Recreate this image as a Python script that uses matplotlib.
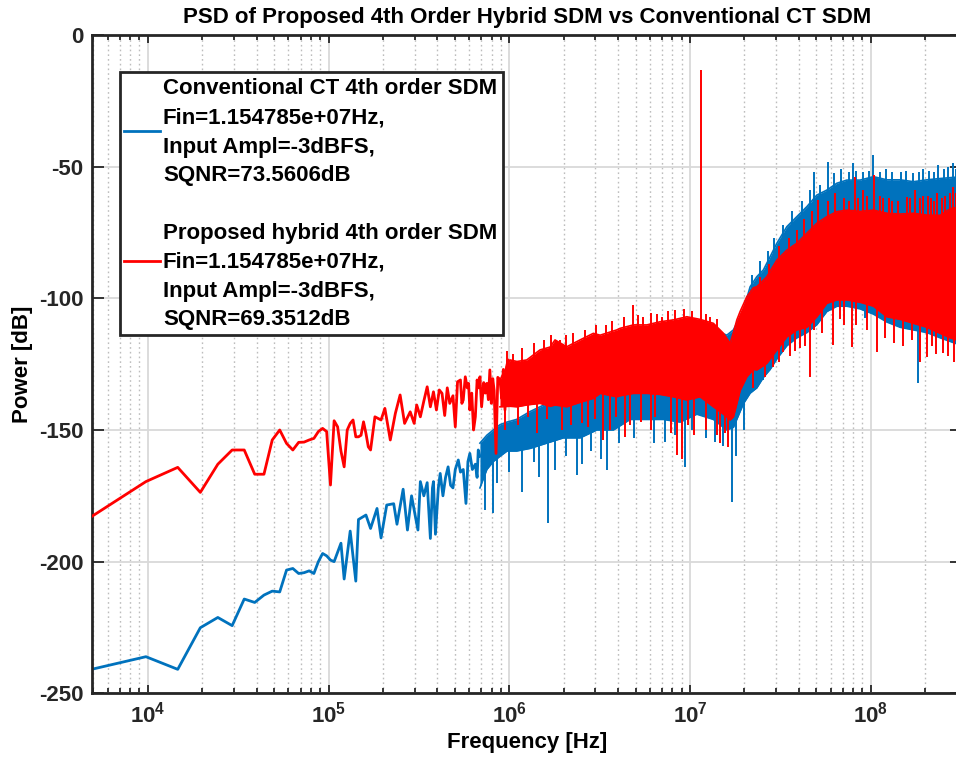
import numpy as np
import matplotlib
matplotlib.use("Agg")
import matplotlib.pyplot as plt
from matplotlib import ticker
from matplotlib.patches import Rectangle

plt.rcParams['font.family'] = ['Liberation Sans', 'DejaVu Sans']
plt.rcParams['font.weight'] = 'bold'
plt.rcParams['mathtext.fontset'] = 'custom'
plt.rcParams['mathtext.bf'] = 'Liberation Sans:bold'
plt.rcParams['mathtext.rm'] = 'Liberation Sans:bold'
plt.rcParams['axes.unicode_minus'] = False

# FFT setup: fs = 640 MHz, N = 2^17 -> bin width
fs = 640e6
nfft = 131072
df = fs / nfft

# ---- red: proposed hybrid SDM ----
red_trace_bin = [1, 2, 3, 4, 5, 6, 7, 8, 9, 10, 11, 12, 13, 14, 15, 16, 17, 18, 19, 20,
                 21, 22, 23, 24, 25, 26, 27, 28, 29, 30, 31, 32, 33, 34, 35, 37, 40, 42, 45, 48,
                 51, 54, 58, 61, 63, 66, 69, 72, 75, 78, 81, 84, 87, 90, 93, 96, 100, 103, 106, 110,
                 112, 114, 117, 120, 122, 124, 127, 130, 133, 136, 139, 141, 144, 148, 151, 154, 157, 160, 163, 166,
                 169, 173, 177, 182, 186, 190, 194, 198, 202, 207, 212, 216, 222, 229]
red_trace_db = [-182.9, -169.6, -164.2, -173.7, -163.0, -157.6, -157.6, -166.8, -166.8, -153.8,
                -150.0, -155.1, -157.6, -154.7, -154.6, -153.8, -153.2, -150.6, -149.4, -150.6,
                -170.9, -146.5, -148.8, -158.0, -164.0, -150.0, -147.5, -146.2, -152.6, -152.6,
                -152.0, -146.9, -151.3, -156.4, -157.6, -145.0, -146.2, -141.8, -153.8, -143.7,
                -136.7, -147.5, -143.1, -147.5, -140.5, -145.0, -139.0, -133.6, -141.2, -135.5,
                -142.4, -134.8, -136.1, -144.5, -134.0, -139.9, -137.0, -148.8, -131.7, -131.0,
                -139.9, -138.6, -129.8, -134.0, -132.3, -142.4, -136.0, -150.0, -145.0, -131.0,
                -134.0, -129.8, -141.2, -132.0, -136.0, -132.3, -138.5, -127.2, -139.9, -130.5,
                -135.0, -158.9, -130.0, -131.0, -138.0, -127.0, -142.4, -126.0, -123.4, -134.0,
                -125.0, -134.8, -126.0, -129.8]

red_band_bin = [182, 207, 226, 256, 303, 345, 367, 426, 505, 598, 652, 806, 841, 996, 1182,
                1400, 1659, 1967, 2331, 2761, 3137, 3416, 3563, 3721, 3881, 4226, 4596, 4800, 5453, 6195,
                7037, 7990, 9079, 10310, 11713, 13305, 15114, 17904, 21210, 25158, 29809, 35315, 41879, 49618, 56363,
                65536]
red_band_hi = [-131.0, -123.4, -124.0, -123.4, -119.6, -118.5, -115.8, -118.4, -115.8, -113.3,
               -114.0, -112.0, -111.4, -110.1, -110.1, -108.9, -108.2, -107.0, -108.0, -109.5,
               -113.3, -117.1, -113.0, -108.2, -105.0, -99.4, -96.0, -95.6, -91.8, -85.5,
               -81.7, -79.1, -75.3, -71.5, -69.0, -67.1, -66.5, -67.0, -66.5, -67.7,
               -68.0, -67.7, -68.4, -68.5, -66.0, -65.0]
red_band_lo = [-141.2, -141.0, -141.2, -140.5, -139.9, -141.0, -140.5, -141.2, -139.5, -138.0,
               -136.1, -137.4, -137.0, -136.1, -136.1, -136.5, -137.4, -138.6, -137.4, -141.2,
               -144.0, -146.2, -145.0, -140.0, -135.0, -129.8, -127.0, -127.2, -124.7, -119.6,
               -114.6, -112.0, -111.0, -107.0, -101.9, -100.6, -100.6, -101.5, -103.0, -107.0,
               -108.0, -109.5, -111.0, -113.3, -115.0, -116.5]

red_up_bin = [200, 215, 240, 280, 320, 350, 390, 420, 460, 540, 620, 700, 760, 880, 996,
              1050, 1120, 1250, 1350, 1430, 1550, 1700, 1900, 2100, 2365, 2500, 2650, 2900,
              5000, 5600, 6400, 7200, 8000, 8800, 9700, 10522, 11864, 13020, 14500, 15500, 16797,
              17500, 18672, 19500, 21480, 23000, 24000, 26000, 27000, 29000, 32460, 34000, 36089,
              38500, 40000, 42500, 44000, 46000, 47580, 50500, 53000, 56000, 58777, 61000, 63000]
red_up_db = [-120.0, -121.0, -119.0, -117.0, -116.0, -114.0, -115.8, -114.0, -113.0, -112.0,
             -110.0, -110.0, -108.5, -107.0, -102.5, -106.5, -107.0, -105.5, -106.0, -107.0,
             -105.0, -104.5, -104.0, -105.0, -13.3, -106.0, -107.0, -108.0,
             -92.0, -87.0, -80.0, -77.0, -74.0, -70.0, -67.0, -62.7, -63.0, -60.1, -62.0, -63.0, -53.8,
             -62.0, -59.0, -61.0, -53.2, -61.0, -62.0, -62.0, -63.0, -63.0, -61.4, -62.0, -58.9,
             -62.0, -61.0, -61.0, -62.0, -63.0, -60.0, -62.0, -61.0, -60.0, -57.6, -60.0, -59.0]
red_dn_bin = [195, 230, 261, 290, 330, 400, 450, 516, 560, 610, 677, 740, 800, 896, 950,
              1100, 1250, 1320, 1600, 1732, 1846, 2000, 2150, 2500, 2900, 3007, 3200, 3343,
              4600, 5300, 5900, 6400, 6738, 7338, 7800, 8336, 8900, 9467, 10000, 11000, 12742,
              13800, 14500, 16107, 17000, 19500, 22147, 24500, 27500, 31000, 34500, 38458,
              41879, 44500, 47000, 51755, 55000, 59500, 64000]
red_dn_db = [-150.0, -148.0, -145.0, -151.0, -146.0, -150.0, -148.0, -147.5, -149.0, -146.0,
             -153.8, -150.0, -145.0, -152.6, -148.0, -147.0, -150.0, -145.0, -151.0, -159.5,
             -161.2, -148.0, -152.0, -150.0, -152.0, -154.8, -151.0, -156.4,
             -134.0, -130.0, -126.0, -124.0, -120.3, -122.0, -120.0, -119.0, -118.0, -129.8,
             -112.0, -113.0, -117.7, -108.0, -110.0, -118.4, -110.0, -112.0, -120.3, -115.0,
             -117.0, -118.0, -116.0, -124.1, -122.2, -118.0, -121.0, -120.8, -122.0, -124.0, -121.0]

# ---- blue: conventional CT SDM ----
blue_trace_bin = [1, 2, 3, 4, 5, 6, 7, 8, 9, 10, 11, 12, 13, 14, 15, 16, 17, 18, 19, 20,
                  21, 22, 24, 25, 27, 29, 30, 33, 35, 38, 40, 43, 47, 49, 53, 56, 59, 62, 64, 66,
                  69, 72, 75, 77, 78, 80, 83, 85, 88, 91, 94, 97, 100, 103, 107, 110, 114, 118, 121, 124,
                  128, 133, 136, 138, 141]
blue_trace_db = [-240.9, -236.1, -240.9, -225.1, -221.2, -224.3, -214.2, -215.5, -212.7, -211.2,
                 -211.5, -203.2, -202.6, -204.5, -204.2, -203.5, -204.5, -200.0, -196.9, -197.8,
                 -199.4, -200.0, -193.0, -206.6, -188.4, -207.4, -184.0, -182.3, -187.4, -179.8,
                 -191.0, -178.5, -178.0, -185.8, -172.5, -188.0, -175.0, -183.0, -188.0, -169.6,
                 -175.0, -170.0, -191.2, -172.0, -169.6, -189.6, -172.0, -166.5, -175.0, -168.0,
                 -164.0, -171.0, -172.0, -165.0, -161.4, -166.0, -165.0, -177.9, -162.0, -158.9,
                 -165.0, -163.0, -168.0, -157.6, -160.0]

blue_band_bin = [141, 154, 167, 182, 199, 225, 267, 330, 408, 505, 625, 772, 955, 1182, 1460,
                 1806, 2235, 2761, 3275, 3563, 4047, 4409, 4800, 5222, 5686, 6195, 7037, 7990, 9079, 10310,
                 11713, 13305, 15114, 17904, 21210, 25158, 29809, 35315, 41879, 49618, 65536]
blue_band_hi = [-155.0, -152.0, -150.0, -148.0, -147.0, -146.0, -143.0, -140.0, -137.0, -134.0,
                -131.0, -128.0, -125.0, -122.0, -120.0, -118.0, -115.0, -112.0, -114.0, -112.0,
                -104.4, -95.6, -91.8, -89.2, -84.2, -79.1, -72.8, -69.0, -65.2, -60.8,
                -58.9, -56.3, -55.1, -55.1, -53.8, -55.0, -55.0, -55.7, -55.0, -54.5, -53.8]
blue_band_lo = [-172.0, -165.0, -162.0, -160.0, -158.0, -158.0, -157.0, -155.0, -153.0, -153.0,
                -150.0, -150.0, -146.0, -146.0, -146.0, -147.0, -144.0, -146.0, -150.0, -149.0,
                -140.0, -136.0, -134.0, -130.0, -127.0, -123.0, -118.0, -115.0, -113.0, -110.0,
                -105.0, -103.0, -103.0, -104.0, -106.0, -109.0, -111.0, -112.0, -113.0, -115.0, -118.0]

blue_up_bin = [4500, 5000, 5500, 6000, 6700, 7500, 8500, 9500, 10000, 10700, 11955, 12800,
               14000, 15500, 16437, 17000, 18500, 20000, 21210, 23000, 25000, 27000, 30000, 32000,
               35000, 38000, 40000, 43000, 46000, 48554, 52000, 55000, 58777, 61000]
blue_up_db = [-91.0, -86.0, -82.0, -77.0, -72.0, -67.0, -63.0, -59.0, -52.0, -57.0, -48.3, -52.5,
              -51.0, -52.0, -48.7, -51.5, -52.0, -51.5, -45.6, -52.0, -51.0, -52.0, -52.0, -51.5,
              -52.5, -52.0, -51.0, -51.5, -52.0, -49.4, -51.0, -50.0, -48.7, -51.0]
blue_dn_bin = [151, 167, 175, 205, 240, 280, 300, 335, 367, 420, 484, 520, 580, 660, 715,
               830, 1000, 1300, 1492, 1700, 1925, 2100, 2500, 2821, 3100, 3491, 3700, 4100,
               4409, 5222, 19081, 37634]
blue_dn_db = [-180.5, -181.7, -170.0, -166.0, -173.5, -162.0, -168.0, -185.4, -165.2, -160.0,
              -167.1, -163.0, -158.0, -161.0, -165.2, -155.0, -153.0, -155.0, -154.5, -152.0,
              -164.0, -150.0, -153.0, -154.5, -156.0, -177.2, -160.0, -150.0,
              -133.6, -131.0, -107.6, -132.3]

legend_conv = ["Conventional CT 4th order SDM", "Fin=1.154785e+07Hz,",
               "Input Ampl=-3dBFS,", "SQNR=73.5606dB"]
legend_prop = ["Proposed hybrid 4th order SDM", "Fin=1.154785e+07Hz,",
               "Input Ampl=-3dBFS,", "SQNR=69.3512dB"]

c_blue = '#0072BD'
c_red = '#FF0000'
fsize = 16

W, H = 956, 767
fig = plt.figure(figsize=(W / 100, H / 100), dpi=100)
ax = fig.add_axes([91.5 / W, 1 - 693.3 / H, 870.5 / W, 658.3 / H])


def draw_series(trace_bin, trace_db, band_bin, band_lo, band_hi, up_bin, up_db, dn_bin, dn_db, color, z):
    fb = np.array(band_bin) * df
    lo = np.array(band_lo)
    hi = np.array(band_hi)
    ax.fill_between(fb, lo, hi, color=color, lw=0, zorder=z)
    ax.plot(fb, hi, color=color, lw=1.2, zorder=z)
    ax.plot(fb, lo, color=color, lw=1.2, zorder=z)
    ax.plot(np.array(trace_bin) * df, trace_db, color=color, lw=2.0, zorder=z)
    mid = (lo + hi) / 2
    for b_list, d_list in ((up_bin, up_db), (dn_bin, dn_db)):
        fs_ = np.array(b_list) * df
        base = np.interp(np.log10(fs_), np.log10(fb), mid)
        ax.vlines(fs_, base, d_list, color=color, lw=1.4, zorder=z)


draw_series(blue_trace_bin, blue_trace_db, blue_band_bin, blue_band_lo, blue_band_hi,
            blue_up_bin, blue_up_db, blue_dn_bin, blue_dn_db, c_blue, 2)
draw_series(red_trace_bin, red_trace_db, red_band_bin, red_band_lo, red_band_hi,
            red_up_bin, red_up_db, red_dn_bin, red_dn_db, c_red, 3)

ax.set_xscale('log')
ax.set_xlim(df, fs / 2)
ax.set_ylim(-250, 0)
ax.set_yticks(np.arange(-250, 1, 50))
ax.xaxis.set_major_locator(ticker.FixedLocator([1e4, 1e5, 1e6, 1e7, 1e8]))
ax.xaxis.set_major_formatter(ticker.FuncFormatter(lambda v, p: r'$\mathbf{10^{%d}}$' % round(np.log10(v))))
ax.xaxis.set_minor_locator(ticker.LogLocator(base=10, subs=np.arange(2, 10), numticks=20))
ax.xaxis.set_minor_formatter(ticker.NullFormatter())

ax.grid(True, which='major', color='#d9d9d9', lw=1.3, ls='-')
ax.grid(True, which='minor', axis='x', color='#bdbdbd', lw=1.0, ls=(0, (1.2, 2.2)))
ax.set_axisbelow(True)

ax.tick_params(which='both', direction='in', top=True, right=True, colors='#262626',
               labelsize=fsize, width=1.3)
ax.tick_params(which='major', length=6, pad=6)
ax.tick_params(axis='y', which='major', length=8.5)
ax.tick_params(which='minor', length=3.5)
for s in ax.spines.values():
    s.set_color('#262626')
    s.set_linewidth(2.0)
for lab in ax.get_xticklabels() + ax.get_yticklabels():
    lab.set_fontweight('bold')

ax.set_xlabel('Frequency [Hz]', fontsize=fsize, fontweight='bold', labelpad=3)
ax.set_ylabel('Power [dB]', fontsize=fsize, fontweight='bold', labelpad=4)
fig.text(527 / W, 1 - 18 / H, 'PSD of Proposed 4th Order Hybrid SDM vs Conventional CT SDM',
         ha='center', va='center', fontsize=fsize, fontweight='bold')


# legend drawn by hand to follow the boxed, multi-line layout
def px(x, y):
    return x / W, 1 - y / H


box = Rectangle(px(120, 335), (503 - 120) / W, (335 - 72) / H, transform=fig.transFigure,
                facecolor='white', edgecolor='#262626', lw=2.0, zorder=5)
fig.add_artist(box)
rows_conv = [89, 118, 147, 175]
rows_prop = [233, 262, 291, 320]
for txt, yy in zip(legend_conv, rows_conv):
    fig.text(*px(163, yy), txt, ha='left', va='center', fontsize=fsize, fontweight='bold', zorder=6)
for txt, yy in zip(legend_prop, rows_prop):
    fig.text(*px(163, yy), txt, ha='left', va='center', fontsize=fsize, fontweight='bold', zorder=6)
fig.add_artist(plt.Line2D([124 / W, 160 / W], [1 - 131 / H] * 2, color=c_blue, lw=2.0, zorder=6))
fig.add_artist(plt.Line2D([124 / W, 160 / W], [1 - 261 / H] * 2, color=c_red, lw=2.0, zorder=6))

fig.savefig('out.png', dpi=100)
